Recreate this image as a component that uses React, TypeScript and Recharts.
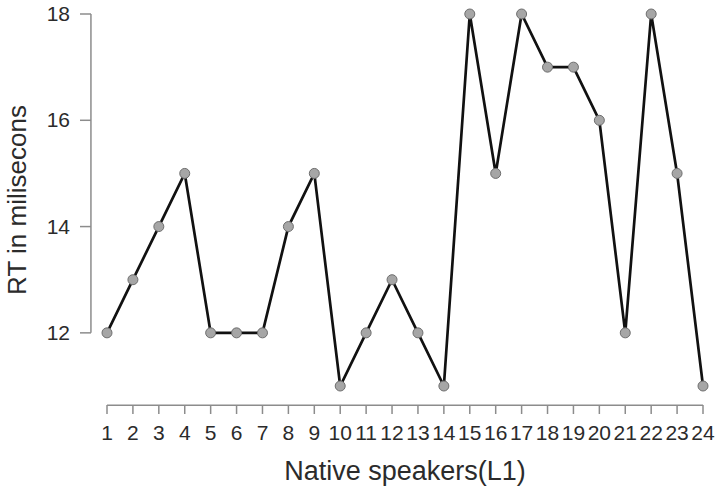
import { LineChart, Line, XAxis, YAxis, ReferenceLine } from 'recharts';

const speakers = [1, 2, 3, 4, 5, 6, 7, 8, 9, 10, 11, 12, 13, 14, 15, 16, 17, 18, 19, 20, 21, 22, 23, 24];
const rtValues = [12, 13, 14, 15, 12, 12, 12, 14, 15, 11, 12, 13, 12, 11, 18, 15, 18, 17, 17, 16, 12, 18, 15, 11];
const yTicks = [12, 14, 16, 18];

const data = speakers.map((s, i) => ({ speaker: s, rt: rtValues[i] }));

const AXIS = '#8c8c8c';
const TEXT = '#2b2b2b';
const FONT = 'Liberation Sans, Arial, sans-serif';

function XTick({ x, y, payload }: any) {
  return (
    <g>
      <line x1={x} x2={x} y1={y + 19} y2={y + 28} stroke={AXIS} strokeWidth={1.5} />
      <text x={x} y={y + 54} textAnchor="middle" fontSize={21} fill={TEXT} fontFamily={FONT}>
        {payload.value}
      </text>
    </g>
  );
}

function YTick({ x, y, payload }: any) {
  return (
    <g>
      <line x1={x - 27} x2={x - 16} y1={y} y2={y} stroke={AXIS} strokeWidth={1.5} />
      <text x={x - 37} y={y + 7} textAnchor="end" fontSize={21} fill={TEXT} fontFamily={FONT}>
        {payload.value}
      </text>
    </g>
  );
}

export default function App() {
  return (
    <div style={{ position: 'absolute', left: 0, top: 0, background: '#fff' }}>
      <LineChart width={716} height={489} data={data} margin={{ top: 14, right: 13, left: 0, bottom: 0 }}>
        <XAxis
          dataKey="speaker"
          type="number"
          domain={[1, 24]}
          ticks={speakers}
          interval={0}
          axisLine={false}
          tickLine={false}
          tickSize={0}
          tickMargin={0}
          height={103}
          tick={<XTick />}
          label={{ value: 'Native speakers(L1)', position: 'insideBottom', offset: 9, fontSize: 27, fill: TEXT, fontFamily: FONT }}
        />
        <YAxis
          type="number"
          domain={[11, 18]}
          ticks={yTicks}
          axisLine={false}
          tickLine={false}
          tickSize={0}
          tickMargin={0}
          width={107}
          tick={<YTick />}
          label={{ value: 'RT in milisecons', angle: -90, position: 'insideLeft', offset: 17, fontSize: 26, fill: TEXT, fontFamily: FONT, style: { textAnchor: 'middle' } }}
        />
        <ReferenceLine segment={[{ x: 1, y: 10.64 }, { x: 24, y: 10.64 }]} ifOverflow="visible" stroke={AXIS} strokeWidth={1.5} />
        <ReferenceLine segment={[{ x: 0.38, y: 12 }, { x: 0.38, y: 18 }]} ifOverflow="visible" stroke={AXIS} strokeWidth={1.5} />
        <Line
          dataKey="rt"
          type="linear"
          stroke="#111"
          strokeWidth={2.7}
          dot={{ r: 5, fill: '#a6a6a6', stroke: '#6e6e6e', strokeWidth: 1 }}
          isAnimationActive={false}
        />
      </LineChart>
    </div>
  );
}
